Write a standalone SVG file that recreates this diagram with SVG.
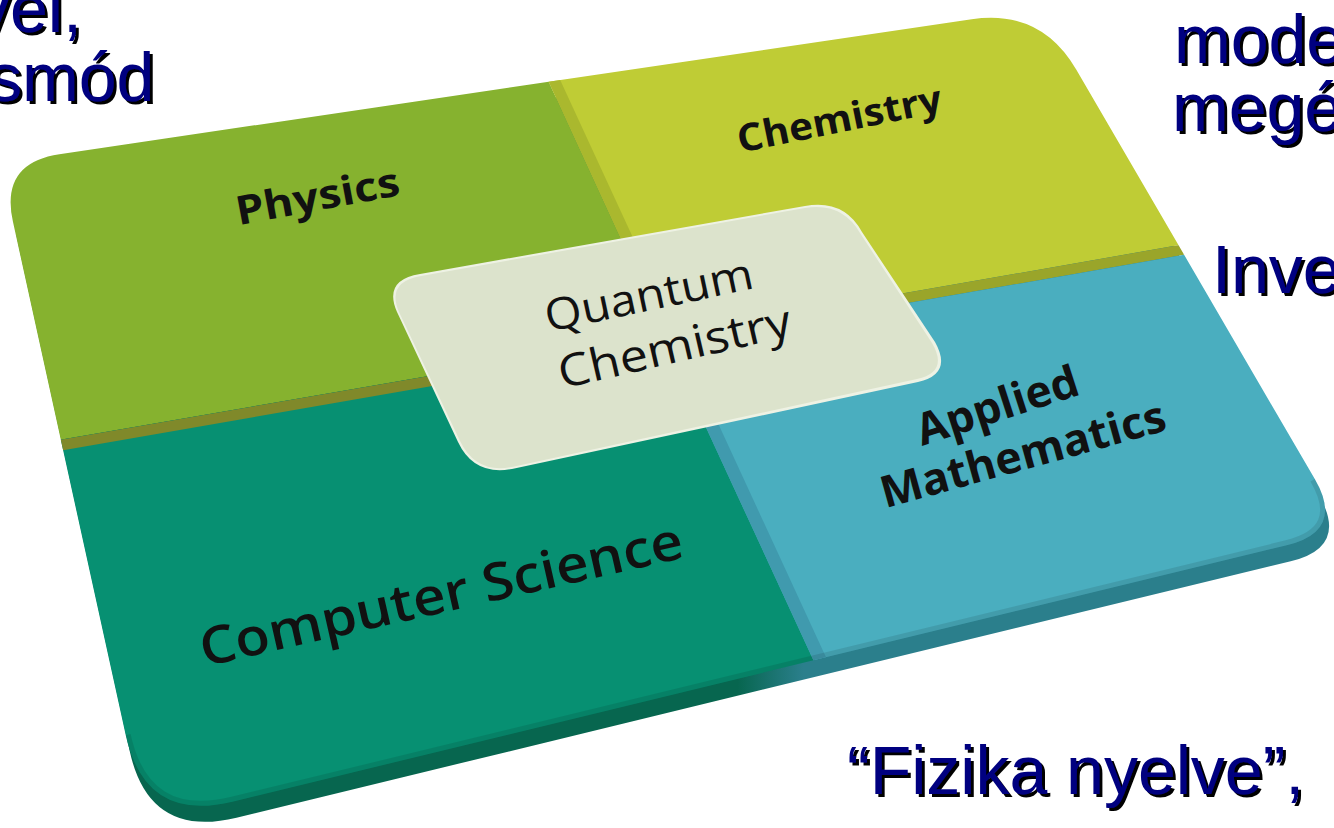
<svg xmlns="http://www.w3.org/2000/svg" width="1334" height="828" viewBox="0 0 1334 828">
  <defs>
    <style>
      .lbl { font-family: "Open Sans", "DejaVu Sans", sans-serif; fill: #111; }
      .b { font-weight: 700; }
      .ov { font-family: "Liberation Sans", Arial, sans-serif; font-size: 68px; fill: #000080; filter: url(#sh); }
    </style>
    <filter id="sh" x="-10%" y="-10%" width="130%" height="140%">
      <feDropShadow dx="3" dy="3" stdDeviation="0.4" flood-color="#000" flood-opacity="1"/>
    </filter>
    <clipPath id="boardClip">
      <path d="M59.4,154.2 L971.7,19.2 Q1041,9 1076.2,69.5 L1314.8,479.1 Q1345,531 1286.7,545.2 L232.5,801.7 Q145,823 125.7,735.1 L12.9,221.6 Q0,163 59.4,154.2 Z"/>
    </clipPath>
    <linearGradient id="baseGrad" x1="0" y1="0" x2="1" y2="0">
      <stop offset="0" stop-color="#07664f"/>
      <stop offset="0.55" stop-color="#07664f"/>
      <stop offset="0.6" stop-color="#2b7f8c"/>
      <stop offset="1" stop-color="#2b7f8c"/>
    </linearGradient>
  </defs>
  <rect width="1334" height="828" fill="#ffffff"/>

  <!-- board thickness -->
  <g id="board-base">
    <path transform="translate(4,16)" fill="url(#baseGrad)" d="M59.4,154.2 L971.7,19.2 Q1041,9 1076.2,69.5 L1314.8,479.1 Q1345,531 1286.7,545.2 L232.5,801.7 Q145,823 125.7,735.1 L12.9,221.6 Q0,163 59.4,154.2 Z"/>
  </g>

  <!-- quadrants -->
  <g clip-path="url(#boardClip)">
    <g id="physics">
      <polygon points="-50,-20 502,-20 665,335 -50,459" fill="#86b22f"/>
    </g>
    <g id="chemistry">
      <polygon points="502,-20 1400,-20 1400,206.5 665,335" fill="#bfcc35"/>
      <polygon points="502,-20 514,-20 677,333 665,335" fill="#aab82e"/>
    </g>
    <g id="computer-science">
      <polygon points="-50,459 665,335 924,900 -50,900" fill="#079072"/>
      <polygon points="-50,459 665,335 668,345 -50,470" fill="#80892a"/>
    </g>
    <g id="applied-mathematics">
      <polygon points="665,335 1400,206.5 1400,217 668,345" fill="#9aa52a"/>
      <polygon points="668,345 1400,217 1400,900 924,900" fill="#4aaebf"/>
      <polygon points="668,345 681,343 938,900 924,900" fill="#409aae"/>
    </g>
    <path d="M1314.8,479.1 Q1345,531 1286.7,545.2 L232.5,801.7 Q145,823 125.7,735.1" fill="none" stroke="#000" stroke-opacity="0.1" stroke-width="10"/>
  </g>

  <!-- central box -->
  <g id="quantum-chemistry">
    <path d="M420,274 L805,206 Q844,199 862,232 L935,342 Q953,374 918,382 L512,469 Q474,476 458,442 L397,312 Q383,280 420,274 Z" fill="#eef2e4"/>
    <path d="M421,276 L805,208 Q842,202 860,233 L932,343 Q949,372 917,379 L512,467 Q476,474 460,441 L399,312 Q386,282 421,276 Z" fill="#dce3cc"/>
    <text class="lbl" font-size="44" transform="translate(652,310) rotate(-12)" text-anchor="middle" textLength="212" lengthAdjust="spacingAndGlyphs">Quantum</text>
    <text class="lbl" font-size="45" transform="translate(678,362) rotate(-13)" text-anchor="middle" textLength="238" lengthAdjust="spacingAndGlyphs">Chemistry</text>
  </g>

  <!-- labels -->
  <g id="labels">
    <text class="lbl b" font-size="40" transform="translate(320,210) rotate(-10.5)" text-anchor="middle" textLength="166" lengthAdjust="spacingAndGlyphs">Physics</text>
    <text class="lbl b" font-size="38" transform="translate(842,132) rotate(-11.5)" text-anchor="middle" textLength="208" lengthAdjust="spacingAndGlyphs">Chemistry</text>
    <text class="lbl b" font-size="44" transform="translate(1002,420) rotate(-18)" text-anchor="middle" textLength="168" lengthAdjust="spacingAndGlyphs">Applied</text>
    <text class="lbl b" font-size="44" transform="translate(1027,469) rotate(-15.5)" text-anchor="middle" textLength="294" lengthAdjust="spacingAndGlyphs">Mathematics</text>
    <text class="lbl" font-weight="600" font-size="52" transform="translate(445,612) rotate(-12.8)" text-anchor="middle" textLength="494" lengthAdjust="spacingAndGlyphs">Computer Science</text>
  </g>

  <!-- overlay slide text -->
  <g id="overlay-text">
    <text class="ov" x="-24" y="32">vel,</text>
    <text class="ov" x="-12" y="101">smód</text>
    <text class="ov" x="1174" y="63">mode</text>
    <text class="ov" x="1172" y="131">megé</text>
    <text class="ov" x="1212" y="293">Inve</text>
    <text class="ov" x="847" y="794">“Fizika nyelve”,</text>
  </g>
</svg>
